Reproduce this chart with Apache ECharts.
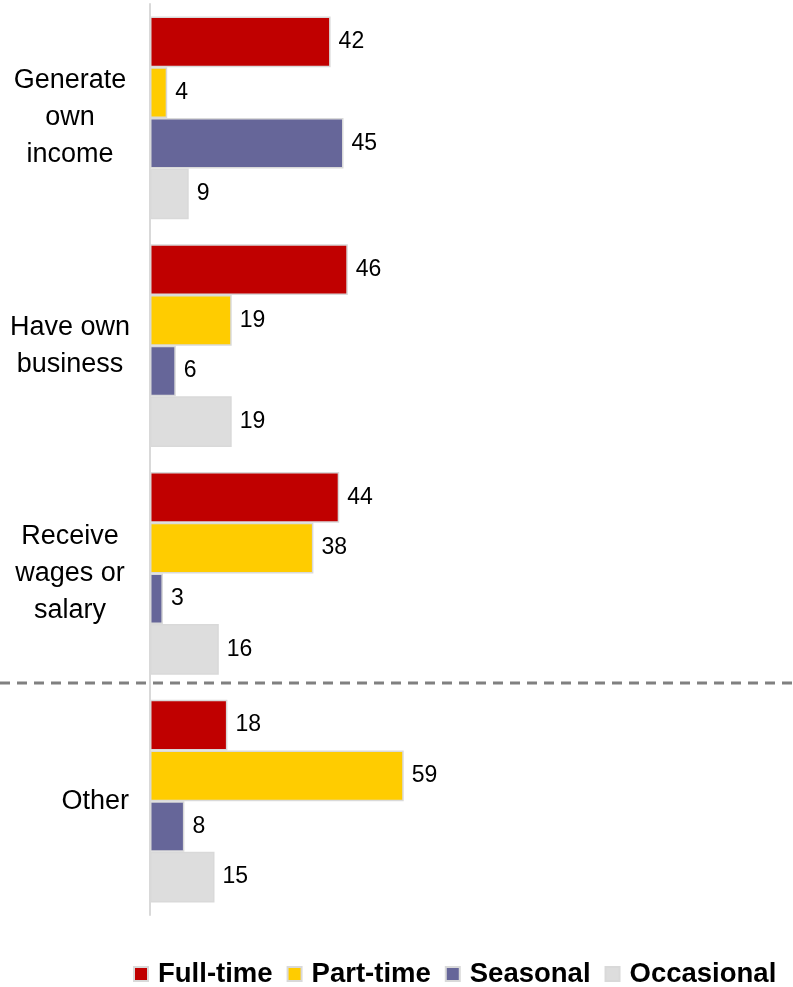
<!DOCTYPE html>
<html>
<head>
<meta charset="utf-8">
<script src="https://cdn.jsdelivr.net/npm/echarts@6/dist/echarts.min.js"></script>
<style>
  html, body { margin: 0; padding: 0; background: #fff; }
  #chart { width: 793px; height: 987px; }
</style>
</head>
<body>
<div id="chart"></div>
<script>
// Income source categories (top to bottom)
const categories = ['Generate\nown\nincome', 'Have own\nbusiness', 'Receive\nwages or\nsalary', 'Other'];

// Share of respondents (%) by type of employment
const fullTime   = [42, 46, 44, 18];
const partTime   = [4, 19, 38, 59];
const seasonal   = [45, 6, 3, 8];
const occasional = [9, 19, 16, 15];

const seriesNames  = ['Full-time', 'Part-time', 'Seasonal', 'Occasional'];
const seriesColors = ['#C00000', '#FFCC00', '#666699', '#DDDDDD'];
const seriesData   = [fullTime, partTime, seasonal, occasional];

const chart = echarts.init(document.getElementById('chart'), null, { renderer: 'canvas' });

const FONT = '"Liberation Sans", Arial, Helvetica, sans-serif';

const series = seriesNames.map((name, i) => ({
  name: name,
  type: 'bar',
  data: seriesData[i],
  barGap: '0%',
  barCategoryGap: '11%',
  itemStyle: { color: seriesColors[i], borderColor: '#d9d9d9', borderWidth: 1.5 },
  label: {
    show: true,
    position: 'right',
    distance: 8,
    color: '#000',
    fontFamily: FONT,
    fontSize: 23
  }
}));

chart.setOption({
  animation: false,
  backgroundColor: '#fff',
  grid: { left: 150, top: 4, width: 430, height: 911, containLabel: false },
  xAxis: {
    type: 'value',
    min: 0,
    max: 100,
    show: false
  },
  yAxis: {
    type: 'category',
    data: categories,
    inverse: true,
    axisLine: { show: true, lineStyle: { color: '#d9d9d9', width: 2 } },
    axisTick: { show: false },
    axisLabel: {
      margin: 21,
      align: 'right',
      formatter: function (v) {
        return v.indexOf('\n') >= 0 ? '{block|' + v + '}' : '{single|' + v + '}';
      },
      rich: {
        block:  { width: 118, align: 'center', lineHeight: 37, fontSize: 27, fontFamily: FONT, color: '#000' },
        single: { lineHeight: 37, fontSize: 27, fontFamily: FONT, color: '#000' }
      }
    }
  },
  legend: {
    left: 128,
    top: 955,
    width: 665,
    itemWidth: 14,
    itemHeight: 14,
    itemGap: 14,
    icon: 'rect',
    textStyle: { fontFamily: FONT, fontSize: 27.5, fontWeight: 'bold', color: '#000', padding: [0, 0, 0, 5] },
    data: seriesNames
  },
  series: series
});

// Dashed separator between the wage categories and "Other"
const yA = chart.convertToPixel({ yAxisIndex: 0 }, categories[2]);
const yB = chart.convertToPixel({ yAxisIndex: 0 }, categories[3]);
const ySep = Math.round((yA + yB) / 2) - 4;
chart.setOption({
  graphic: [{
    type: 'line',
    shape: { x1: 0, y1: ySep, x2: 793, y2: ySep },
    style: { stroke: '#808080', lineWidth: 3, lineDash: [10, 7] },
    z: 10
  }]
});
</script>
</body>
</html>
